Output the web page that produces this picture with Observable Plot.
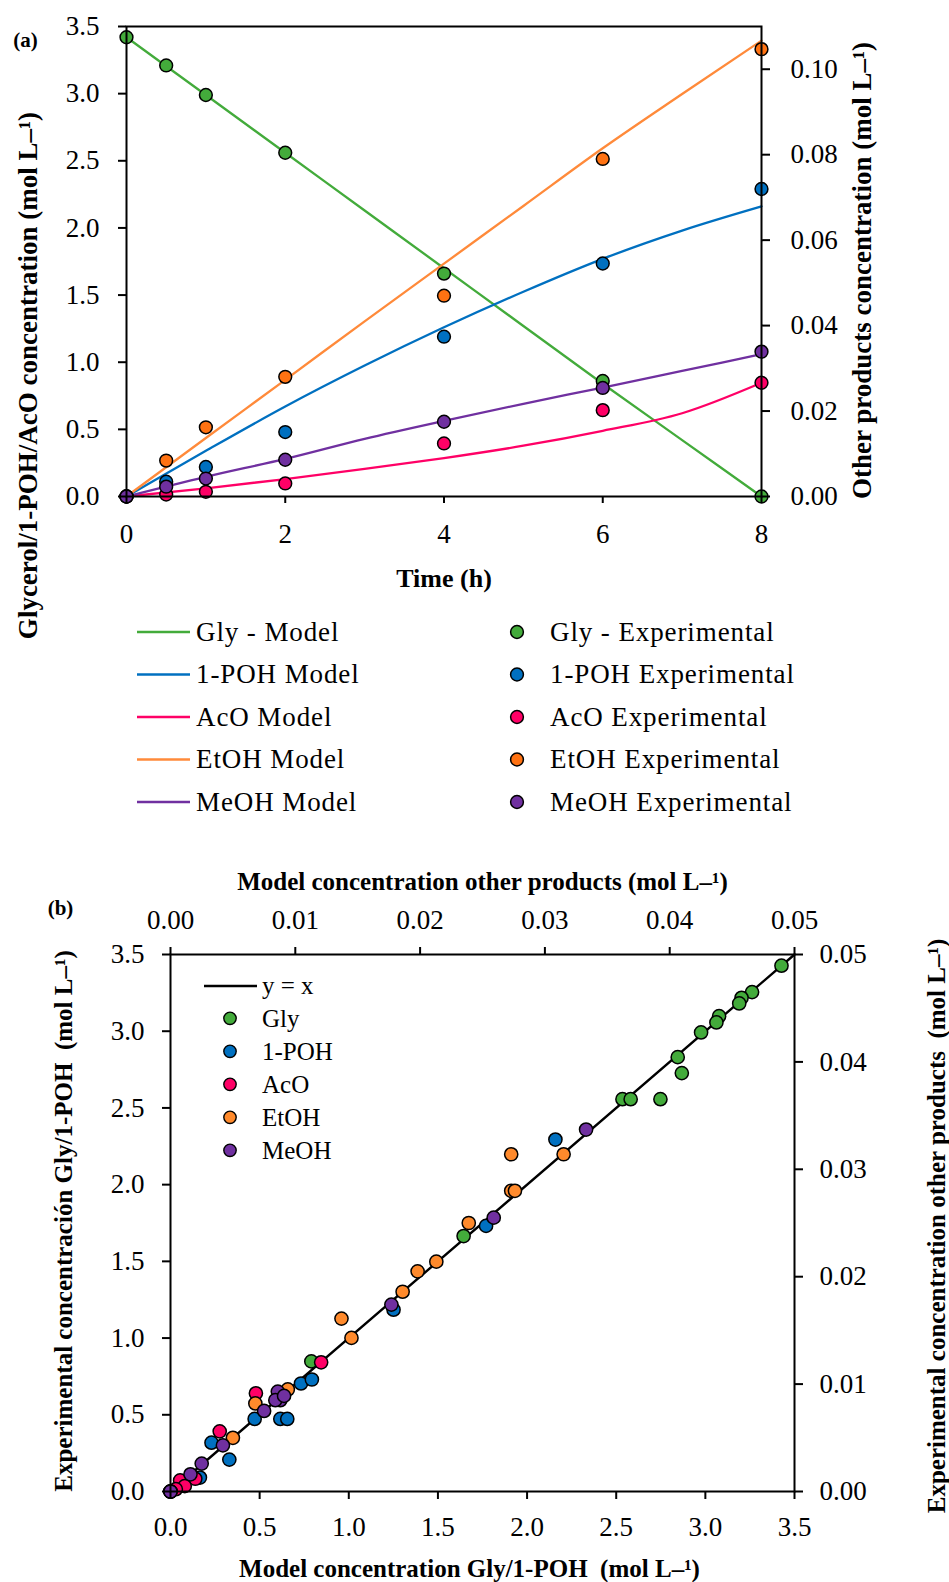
<!DOCTYPE html>
<html><head><meta charset="utf-8">
<script src="https://cdn.jsdelivr.net/npm/d3@7"></script>
<script src="https://cdn.jsdelivr.net/npm/@observablehq/plot@0.6"></script>
<style>
html,body{margin:0;padding:0;background:#fff;}
#page{position:relative;width:949px;height:1582px;overflow:hidden;background:#fff;}
#page svg{position:absolute;left:0;}
</style></head><body><div id="page"></div>
<script>
// ---------- shared ----------
const seriesNames = ["Gly", "1-POH", "AcO", "EtOH", "MeOH"];
const dotColorsA = ["#43ab3b", "#0070c0", "#ff0066", "#ff7212", "#7030a0"];
const lineColorsA = ["#43ab3b", "#0070c0", "#ff0066", "#ff8a3a", "#7030a0"];
const dotColorsB = ["#43ab3b", "#0070c0", "#ff0066", "#ff8a2c", "#7030a0"];
const secondarySeries = ["EtOH", "MeOH"];

// ---------- panel (a): kinetics ----------
const timeModel = [0, 1, 2, 3, 4, 5, 6, 7, 8];
const glyModel  = [3.42, 2.99, 2.56, 2.13, 1.70, 1.27, 0.84, 0.42, 0.00];
const pohModel  = [0, 0.34, 0.67, 0.975, 1.26, 1.525, 1.77, 1.98, 2.16];
const acoModel  = [0, 0.06, 0.13, 0.205, 0.286, 0.378, 0.489, 0.62, 0.847];
const etohModel = [0, 0.0137, 0.0273, 0.041, 0.0545, 0.068, 0.0815, 0.0942, 0.1067]; // other products axis
const meohModel = [0, 0.0046, 0.0088, 0.0135, 0.0177, 0.0217, 0.0255, 0.0294, 0.0333];

const timeExp = [0, 0.5, 1, 2, 4, 6, 8];
const glyExp  = [3.42, 3.21, 2.99, 2.56, 1.66, 0.86, 0.00];
const pohExp  = [0, 0.11, 0.22, 0.48, 1.19, 1.735, 2.29];
const acoExp  = [0, 0.015, 0.035, 0.097, 0.395, 0.643, 0.847];
const etohExp = [0, 0.0084, 0.0162, 0.0280, 0.0470, 0.0790, 0.1047];
const meohExp = [0, 0.0023, 0.0042, 0.0086, 0.0175, 0.0254, 0.0339];

const timeTicks = [0, 2, 4, 6, 8];
const leftTicksA = [0, 0.5, 1, 1.5, 2, 2.5, 3, 3.5];
const rightTicksA = [0, 0.02, 0.04, 0.06, 0.08, 0.10];
const leftMaxA = 3.5, rightMaxA = 0.11;

const legendModelLabels = ["Gly - Model", "1-POH Model", "AcO Model", "EtOH Model", "MeOH Model"];
const legendExpLabels = ["Gly - Experimental", "1-POH Experimental", "AcO Experimental", "EtOH Experimental", "MeOH Experimental"];

// ---------- panel (b): parity ----------
const glyParModel = [3.427, 3.262, 3.203, 3.19, 3.077, 3.062, 2.976, 2.845, 2.868, 2.535, 2.581, 2.748, 1.644, 0.79, 0];
const glyParExp   = [3.427, 3.255, 3.218, 3.181, 3.098, 3.057, 2.992, 2.831, 2.727, 2.557, 2.557, 2.557, 1.665, 0.848, 0];
const pohParModel = [2.159, 1.77, 1.251, 0.732, 0.793, 0.472, 0.616, 0.655, 0.33, 0.23, 0.165, 0];
const pohParExp   = [2.294, 1.731, 1.185, 0.704, 0.730, 0.473, 0.473, 0.473, 0.208, 0.318, 0.091, 0];
const acoParModel = [0.845, 0.479, 0.276, 0.139, 0.054, 0.08, 0.03, 0];
const acoParExp   = [0.842, 0.640, 0.392, 0.083, 0.072, 0.035, 0.015, 0];
// other products axes (mol L-1)
const etohParModel = [0.0273, 0.0315, 0.0273, 0.0276, 0.0239, 0.0213, 0.0198, 0.0186, 0.0137, 0.0145, 0.0094, 0.0068, 0.0050, 0];
const etohParExp   = [0.0314, 0.0314, 0.0280, 0.0280, 0.0250, 0.0214, 0.0205, 0.0186, 0.0161, 0.0143, 0.0095, 0.0082, 0.0050, 0];
const meohParModel = [0.0333, 0.0259, 0.0177, 0.0086, 0.0088, 0.0084, 0.0091, 0.0075, 0.0042, 0.0025, 0.0016, 0];
const meohParExp   = [0.0337, 0.0255, 0.0174, 0.0093, 0.0085, 0.0085, 0.0089, 0.0075, 0.0043, 0.0026, 0.0016, 0];

const parityRange = [0, 3.5];
const primTicksB = [0, 0.5, 1, 1.5, 2, 2.5, 3, 3.5];
const secTicksB = [0, 0.01, 0.02, 0.03, 0.04, 0.05];
const primMaxB = 3.5, secMaxB = 0.05;
const legendParLabels = ["Gly", "1-POH", "AcO", "EtOH", "MeOH"];

const FONT = "Liberation Serif";
const page = document.getElementById("page");
const title = {text: d => d, fontWeight: "bold", textAnchor: "middle", lineAnchor: "middle"};

// ===== panel (a) =====
const kA = leftMaxA / rightMaxA;
const modelArrays = [glyModel, pohModel, acoModel, etohModel, meohModel];
const expArrays = [glyExp, pohExp, acoExp, etohExp, meohExp];
const isSec = s => secondarySeries.includes(s);

const marksA = [];
seriesNames.forEach((s, i) => {
  const rows = timeModel.map((t, j) => ({t, v: isSec(s) ? modelArrays[i][j] * kA : modelArrays[i][j]}));
  marksA.push(Plot.line(rows, {x: "t", y: "v", stroke: lineColorsA[i], strokeWidth: 2.3, curve: "monotone-x"}));
});
seriesNames.forEach((s, i) => {
  const rows = timeExp.map((t, j) => ({t, v: isSec(s) ? expArrays[i][j] * kA : expArrays[i][j]}));
  marksA.push(Plot.dot(rows, {x: "t", y: "v", r: 6.4, fill: dotColorsA[i], stroke: "black", strokeWidth: 1.5}));
});

const axisStyle = {strokeWidth: 2, fontSize: 27, label: null};
const plotA = Plot.plot({
  width: 949, height: 700,
  marginLeft: 126, marginRight: 188, marginTop: 26, marginBottom: 204,
  style: {fontFamily: FONT, fontSize: "27px", color: "black", background: "transparent"},
  x: {domain: [0, 8], axis: null},
  y: {domain: [0, leftMaxA], axis: null},
  marks: [
    ...marksA,
    Plot.frame({stroke: "black", strokeWidth: 2}),
    Plot.axisX(timeTicks, {anchor: "bottom", tickSize: 7, tickPadding: 20, ...axisStyle}),
    Plot.axisY(leftTicksA, {anchor: "left", tickSize: 8, tickPadding: 19, tickFormat: d => d.toFixed(1), ...axisStyle}),
    Plot.axisY(rightTicksA.map(t => t * kA), {anchor: "right", tickSize: 8, tickPadding: 21, tickFormat: d => (d / kA).toFixed(2), ...axisStyle}),
    Plot.text(["Time (h)"], {...title, frameAnchor: "bottom", dy: 82, fontSize: 26}),
    Plot.text(["Glycerol/1-POH/AcO concentration (mol L–¹)"], {...title, frameAnchor: "left", dx: -98, dy: 114, rotate: -90, fontSize: 27, letterSpacing: 0.5}),
    Plot.text(["Other products concentration (mol L–¹)"], {...title, frameAnchor: "right", dx: 101, dy: 9, rotate: -90, fontSize: 27, letterSpacing: 0.5}),
    Plot.text(["(a)"], {...title, frameAnchor: "top-left", dx: -101, dy: 14, fontSize: 21})
  ]
});
plotA.style.top = "0px";
page.appendChild(plotA);

// ===== panel (b) =====
const kB = primMaxB / secMaxB;
const parModels = [glyParModel, pohParModel, acoParModel, etohParModel, meohParModel];
const parExps = [glyParExp, pohParExp, acoParExp, etohParExp, meohParExp];
const marksB = [Plot.line(parityRange, {x: d => d, y: d => d, stroke: "black", strokeWidth: 2.4})];
seriesNames.forEach((s, i) => {
  const f = isSec(s) ? kB : 1;
  const rows = parModels[i].map((m, j) => ({m: m * f, e: parExps[i][j] * f}));
  marksB.push(Plot.dot(rows, {x: "m", y: "e", r: 6.6, fill: dotColorsB[i], stroke: "black", strokeWidth: 1.5}));
});
const plotB = Plot.plot({
  width: 949, height: 742,
  marginLeft: 170, marginRight: 155, marginTop: 114, marginBottom: 91,
  style: {fontFamily: FONT, fontSize: "27px", color: "black", background: "transparent"},
  x: {domain: [0, primMaxB], axis: null},
  y: {domain: [0, primMaxB], axis: null},
  marks: [
    ...marksB,
    Plot.frame({stroke: "black", strokeWidth: 2}),
    Plot.axisX(primTicksB, {anchor: "bottom", tickSize: 8, tickPadding: 17, tickFormat: d => d.toFixed(1), ...axisStyle}),
    Plot.axisX(secTicksB.map(t => t * kB), {anchor: "top", tickSize: 8, tickPadding: 18, tickFormat: d => (d / kB).toFixed(2), ...axisStyle}),
    Plot.axisY(primTicksB, {anchor: "left", tickSize: 8, tickPadding: 18, tickFormat: d => d.toFixed(1), ...axisStyle}),
    Plot.axisY(secTicksB.map(t => t * kB), {anchor: "right", tickSize: 8, tickPadding: 17, tickFormat: d => (d / kB).toFixed(2), ...axisStyle}),
    Plot.text(["Model concentration other products (mol L–¹)"], {...title, frameAnchor: "top", dy: -73, fontSize: 25}),
    Plot.text(["Model concentration Gly/1-POH  (mol L–¹)"], {...title, frameAnchor: "bottom", dx: -13, dy: 77, fontSize: 25}),
    Plot.text(["Experimental concentración Gly/1-POH  (mol L–¹)"], {...title, frameAnchor: "left", dx: -107, dy: -2, rotate: -90, fontSize: 25, letterSpacing: 0.2}),
    Plot.text(["Experimental concentration other products  (mol L–¹)"], {...title, frameAnchor: "right", dx: 142, dy: 3, rotate: -90, fontSize: 25}),
    Plot.text(["(b)"], {...title, frameAnchor: "top-left", dx: -110, dy: -46, fontSize: 21})
  ]
});
plotB.style.top = "840px";
page.appendChild(plotB);

// ===== legends (overlay) =====
const svg = d3.select(page).append("svg")
  .attr("width", 949).attr("height", 1582).style("top", "0px")
  .style("font-family", FONT).style("pointer-events", "none");

// legend (a)
const legA = svg.append("g");
seriesNames.forEach((s, i) => {
  const y = 632 + i * 42.5;
  legA.append("line").attr("x1", 137).attr("x2", 190).attr("y1", y).attr("y2", y)
    .attr("stroke", lineColorsA[i]).attr("stroke-width", 2.6);
  legA.append("text").attr("x", 196).attr("y", y + 8.8).attr("font-size", 27)
    .attr("letter-spacing", 0.9).text(legendModelLabels[i]);
  legA.append("circle").attr("cx", 517).attr("cy", y).attr("r", 6.4)
    .attr("fill", dotColorsA[i]).attr("stroke", "black").attr("stroke-width", 1.5);
  legA.append("text").attr("x", 550).attr("y", y + 8.8).attr("font-size", 27)
    .attr("letter-spacing", 0.9).text(legendExpLabels[i]);
});

// legend (b)
const legB = svg.append("g");
legB.append("line").attr("x1", 204).attr("x2", 257).attr("y1", 986).attr("y2", 986)
  .attr("stroke", "black").attr("stroke-width", 2.4);
legB.append("text").attr("x", 262).attr("y", 994).attr("font-size", 25).text("y = x");
seriesNames.forEach((s, i) => {
  const y = 1018.3 + i * 33;
  legB.append("circle").attr("cx", 230).attr("cy", y).attr("r", 6.2)
    .attr("fill", dotColorsB[i]).attr("stroke", "black").attr("stroke-width", 1.4);
  legB.append("text").attr("x", 262).attr("y", y + 8.4).attr("font-size", 25).text(legendParLabels[i]);
});
</script></body></html>
